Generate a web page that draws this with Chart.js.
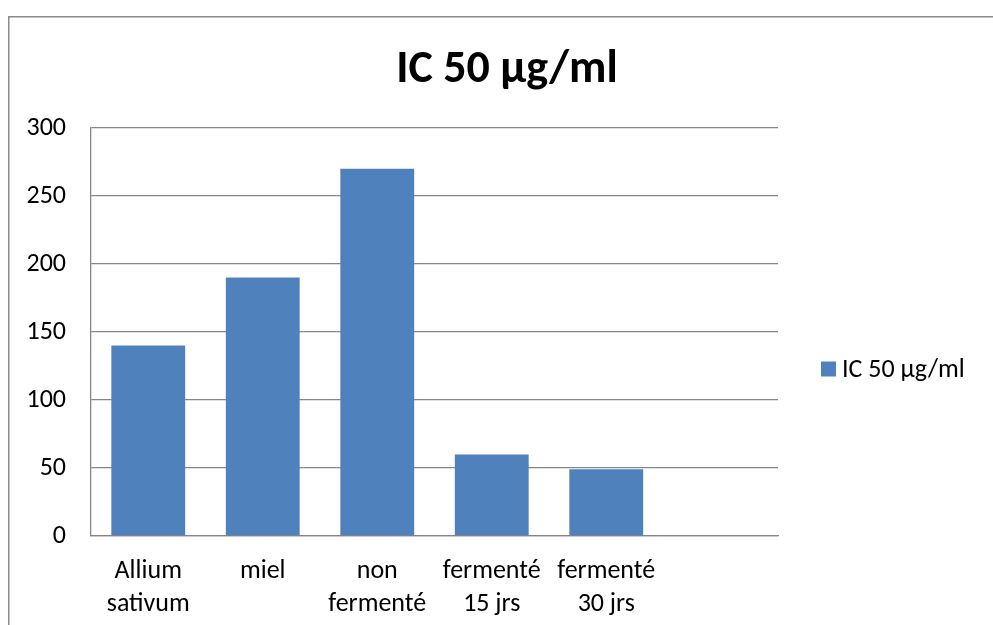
<!DOCTYPE html>
<html>
<head>
<meta charset="utf-8">
<script src="https://cdn.jsdelivr.net/npm/chart.js@4/dist/chart.umd.min.js"></script>
<style>
  html, body { margin: 0; padding: 0; background: #ffffff; overflow: hidden; }
  #wrap { width: 993px; height: 625px; }
  canvas { display: block; }
</style>
</head>
<body>
<div id="wrap"><canvas id="c" width="993" height="625"></canvas></div>
<script>
// Categories (multi-line labels as arrays); the last slot is left empty
const categories = [['Allium', 'sativum'], 'miel', ['non', 'fermenté'], ['fermenté', '15 jrs'], ['fermenté', '30 jrs'], ''];
const chartTitle = 'IC 50 µg/ml';
const seriesLabel = 'IC 50 µg/ml';
const ic50Values = [140, 190, 270, 60, 49, null];
const yTicks = [0, 50, 100, 150, 200, 250, 300];

const FONT = 'Carlito, Lato, "Open Sans", sans-serif';
const BAR_BLUE = '#4F81BD';
const GRID_GREY = '#868686';

// White background, outer chart frame (top and left edges) and the centred title
const framePlugin = {
  id: 'frame',
  beforeDraw(chart) {
    const ctx = chart.ctx;
    ctx.save();
    ctx.fillStyle = '#ffffff';
    ctx.fillRect(0, 0, chart.width, chart.height);
    ctx.strokeStyle = '#8a8a8a';
    ctx.lineWidth = 1.5;
    ctx.beginPath();
    ctx.moveTo(8.75, chart.height + 10);
    ctx.lineTo(8.75, 16.75);
    ctx.lineTo(chart.width + 10, 16.75);
    ctx.stroke();
    ctx.fillStyle = '#000000';
    ctx.font = 'bold 46px ' + FONT;
    ctx.textAlign = 'center';
    ctx.textBaseline = 'alphabetic';
    ctx.fillText(chartTitle, 507, 82);
    ctx.restore();
  }
};

// Legend entry on the right, built from the dataset itself
const sideLegend = {
  id: 'sideLegend',
  afterDraw(chart) {
    const ctx = chart.ctx;
    const area = chart.chartArea;
    const ds = chart.data.datasets[0];
    const x = area.right + 43;
    const y = 369;
    ctx.save();
    ctx.fillStyle = ds.backgroundColor;
    ctx.fillRect(x, y - 7.5, 15, 15);
    ctx.fillStyle = '#000000';
    ctx.font = '26px ' + FONT;
    ctx.textBaseline = 'middle';
    ctx.textAlign = 'left';
    ctx.fillText(ds.label, x + 21, y + 1);
    ctx.restore();
  }
};

new Chart(document.getElementById('c'), {
  type: 'bar',
  data: {
    labels: categories,
    datasets: [{
      label: seriesLabel,
      data: ic50Values,
      backgroundColor: BAR_BLUE,
      borderWidth: 0,
      barPercentage: 0.645,
      categoryPercentage: 1.0
    }]
  },
  options: {
    responsive: false,
    animation: false,
    devicePixelRatio: 1,
    layout: { padding: { left: 0, right: 215, top: 128, bottom: 0 } },
    plugins: {
      legend: { display: false },
      tooltip: { enabled: false },
      title: { display: false }
    },
    scales: {
      x: {
        grid: { display: false, drawTicks: false },
        border: { display: true, color: GRID_GREY, width: 1.3 },
        ticks: {
          color: '#000000',
          font: { family: FONT, size: 26, lineHeight: 1.27 },
          padding: 19,
          autoSkip: false,
          maxRotation: 0,
          minRotation: 0
        },
        afterFit(scale) { scale.height = 89; }
      },
      y: {
        min: 0,
        max: 300,
        afterBuildTicks(scale) { scale.ticks = yTicks.map(v => ({ value: v })); },
        grid: { color: GRID_GREY, lineWidth: 1.3, drawTicks: false },
        border: { display: true, color: GRID_GREY, width: 1.3 },
        ticks: {
          color: '#000000',
          font: { family: FONT, size: 26 },
          padding: 25
        },
        afterFit(scale) { scale.width = 91; }
      }
    }
  },
  plugins: [framePlugin, sideLegend]
});
</script>
</body>
</html>
